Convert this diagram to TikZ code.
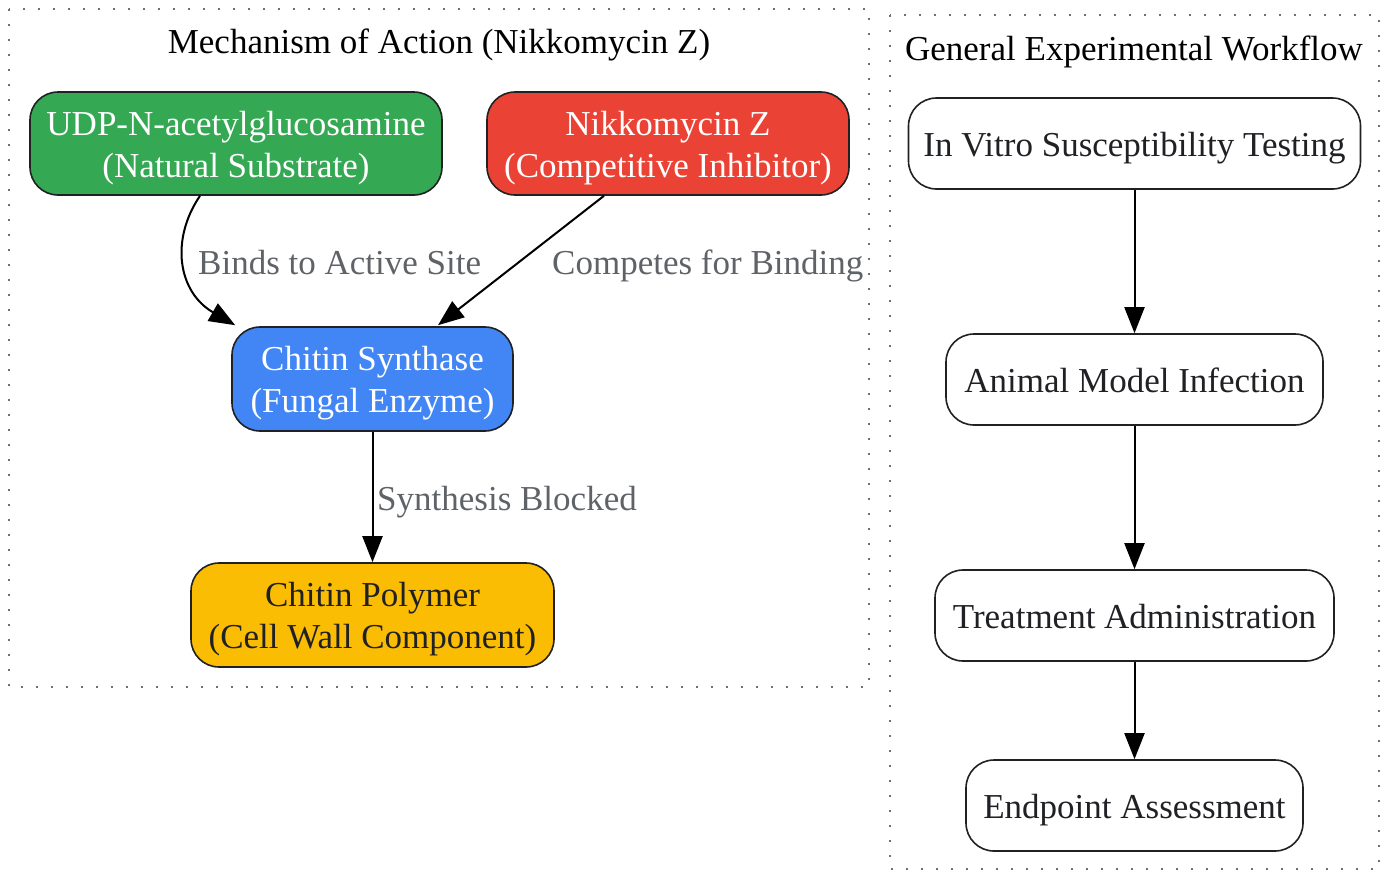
\documentclass[tikz,border=0pt]{standalone}
\usepackage{fontspec}
\setmainfont{Liberation Serif}
\usetikzlibrary{arrows.meta}
\definecolor{gGreen}{HTML}{34A853}
\definecolor{gRed}{HTML}{EA4335}
\definecolor{gBlue}{HTML}{4285F4}
\definecolor{gYellow}{HTML}{FBBC04}
\definecolor{gDark}{HTML}{202124}
\definecolor{gLabel}{HTML}{5F6368}
\definecolor{gDot}{HTML}{707070}
\newcommand{\lowtext}[1]{\raisebox{-4.5pt}[\height][\depth]{\begin{tabular}{@{}c@{}}#1\end{tabular}}}
\begin{document}
\begin{tikzpicture}[x=1pt,y=-1pt,
  box/.style={draw=gDark, line width=1.6pt, rounded corners=28pt, inner sep=0pt,
    align=center, font=\fontsize{35}{42}\selectfont},
  boxw/.style={box, fill=white, text=gDark},
  conn/.style={line width=2pt, black, -{Triangle[length=26pt,width=20pt]}},
  elabel/.style={text=gLabel, inner sep=0pt, anchor=base west, font=\fontsize{35}{42}\selectfont},
  ctitle/.style={text=black, inner sep=0pt, anchor=base, font=\fontsize{35}{42}\selectfont},
  cluster/.style={draw=gDot, line width=1.8pt, dash pattern=on 1.8pt off 13.2pt}]
\useasboundingbox (0,0) rectangle (1387,871);
% clusters
\draw[cluster] (9,9) rectangle (869,687);
\draw[cluster] (890,15) rectangle (1379,869);
\node[ctitle] (t1) at (439,53) {Mechanism of Action (Nikkomycin Z)};
\node[ctitle] (t2) at (1134,60) {General Experimental Workflow};
% left nodes
\node[box, fill=gGreen, text=white, minimum width=412pt, minimum height=103pt] (udp) at (236,143.5) {\lowtext{UDP-N-acetylglucosamine\\(Natural Substrate)}};
\node[box, fill=gRed, text=white, minimum width=362pt, minimum height=103pt] (nik) at (668,143.5) {\lowtext{Nikkomycin Z\\(Competitive Inhibitor)}};
\node[box, fill=gBlue, text=white, minimum width=281pt, minimum height=104pt] (syn) at (372.5,379) {\lowtext{Chitin Synthase\\(Fungal Enzyme)}};
\node[box, fill=gYellow, text=gDark, minimum width=363pt, minimum height=104pt] (pol) at (372.5,615) {\lowtext{Chitin Polymer\\(Cell Wall Component)}};
% right nodes
\node[boxw, minimum width=452pt, minimum height=91pt] (vitro) at (1134.5,143.5) {\lowtext{In Vitro Susceptibility Testing}};
\node[boxw, minimum width=377pt, minimum height=91pt] (animal) at (1134.5,379.5) {\lowtext{Animal Model Infection}};
\node[boxw, minimum width=399pt, minimum height=91pt] (treat) at (1134.5,615.5) {\lowtext{Treatment Administration}};
\node[boxw, minimum width=337pt, minimum height=91pt] (endp) at (1134.5,805.5) {\lowtext{Endpoint Assessment}};
% edges left
\draw[conn] ([xshift=-36pt]udp.south) .. controls (170,240) and (178,292) .. ([xshift=4pt,yshift=1pt]syn.north west);
\draw[conn] ([xshift=-64pt]nik.south) -- ([xshift=65.5pt,yshift=1pt]syn.north);
\draw[conn] (syn.south) -- (pol.north);
\node[elabel] (l1) at (198,274) {Binds to Active Site};
\node[elabel] (l2) at (552,274) {Competes for Binding};
\node[elabel] (l3) at (377,510) {Synthesis Blocked};
% edges right
\draw[conn] (vitro.south) -- (animal.north);
\draw[conn] (animal.south) -- (treat.north);
\draw[conn] (treat.south) -- (endp.north);
\end{tikzpicture}
\end{document}
